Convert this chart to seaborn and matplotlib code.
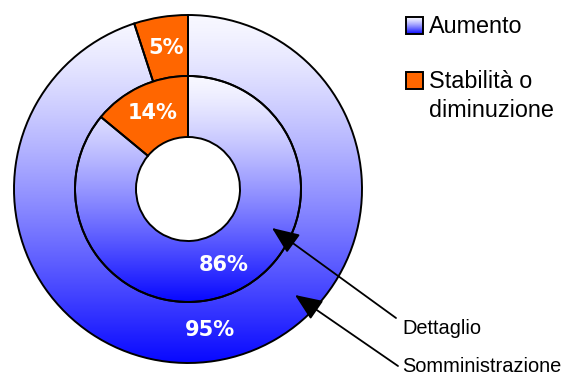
import numpy as np
import matplotlib.pyplot as plt
import seaborn as sns
from matplotlib.patches import Rectangle

sns.set_theme(style='white')
plt.rcParams['font.family'] = ['Liberation Sans', 'DejaVu Sans']

# data
categories = ['Stabilità o\ndiminuzione', 'Aumento']
somministrazione = [5, 95]   # outer ring
dettaglio = [14, 86]         # inner ring
ring_names = ['Dettaglio', 'Somministrazione']

ORANGE = '#ff6600'
W, H = 571, 382
cx, cy = 188, H - 189


def blue_gradient(n=256):
    t = np.linspace(0, 1, n) ** 1.3
    top = np.array([248, 248, 255]) / 255
    bottom = np.array([8, 8, 255]) / 255
    return (top + (bottom - top) * t[:, None])[:, None, :]


def draw_ring(ax, values, radius, width, pctdist):
    wedges, _, autotexts = ax.pie(
        values, radius=radius, center=(cx, cy), startangle=90, counterclock=True,
        colors=[ORANGE, 'none'], autopct=lambda p: f'{p:.0f}%', pctdistance=pctdist,
        wedgeprops=dict(width=width, edgecolor='black', linewidth=1.4),
        textprops=dict(color='white', fontsize=15, fontweight='bold', family='DejaVu Sans'))
    # gradient fill for the "Aumento" wedge
    im = ax.imshow(blue_gradient(), extent=[cx - radius, cx + radius, cy - radius, cy + radius],
                   origin='upper', aspect='auto', interpolation='bilinear', zorder=0.5)
    im.set_clip_path(wedges[1])
    return wedges


fig = plt.figure(figsize=(5.71, 3.82), dpi=100)
ax = fig.add_axes([0, 0, 1, 1])

draw_ring(ax, somministrazione, 174, 61, 0.82)
draw_ring(ax, dettaglio, 113, 61, 0.74)

# legend (drawn by hand because of the gradient swatch)
sw = Rectangle((406, H - 34), 17, 17, facecolor='none', edgecolor='black', linewidth=1.4, zorder=2)
ax.add_patch(sw)
im = ax.imshow(blue_gradient(), extent=[406, 423, H - 34, H - 17], origin='upper',
               aspect='auto', interpolation='bilinear', zorder=1.5)
im.set_clip_path(sw)
ax.add_patch(Rectangle((406, H - 89), 17, 17, facecolor=ORANGE, edgecolor='black',
                       linewidth=1.4, zorder=2))
ax.text(429, H - 33, categories[1], fontsize=16.8, color='black', va='baseline', ha='left')
ax.text(429, H - 88, categories[0].split('\n')[0], fontsize=16.8, color='black', va='baseline', ha='left')
ax.text(429, H - 117, categories[0].split('\n')[1], fontsize=16.8, color='black', va='baseline', ha='left')

# ring callouts
arrow = dict(arrowstyle='-|>,head_length=1.2,head_width=0.5', mutation_scale=14,
             color='black', linewidth=1.3, shrinkA=0, shrinkB=0)
ax.annotate('', xy=(272, H - 228), xytext=(396, H - 318), arrowprops=arrow)
ax.annotate('', xy=(295, H - 295), xytext=(398, H - 366), arrowprops=arrow)
ax.text(402, H - 334, ring_names[0], fontsize=14.4, color='black', va='baseline', ha='left')
ax.text(402, H - 372, ring_names[1], fontsize=14.4, color='black', va='baseline', ha='left')

ax.set_xlim(0, W)
ax.set_ylim(0, H)
ax.axis('off')

fig.savefig('out.png', dpi=100, facecolor='white')
